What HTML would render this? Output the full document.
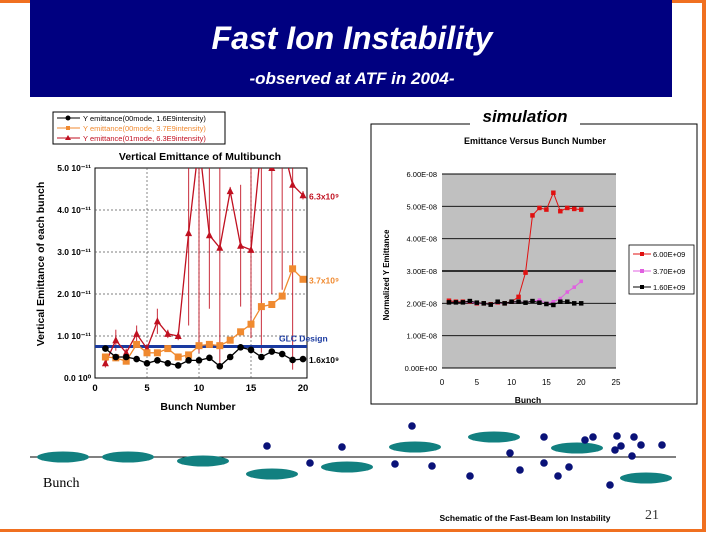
<!DOCTYPE html>
<html><head><meta charset="utf-8"><style>
html,body{margin:0;padding:0;background:#fff}
svg{display:block}
text{font-family:"Liberation Sans",sans-serif}
</style></head><body>
<svg id="s" width="720" height="540" viewBox="0 0 720 540" xmlns="http://www.w3.org/2000/svg">
<rect x="0" y="0" width="705" height="3" fill="#f07020"/>
<rect x="702" y="0" width="4" height="532" fill="#f07020"/>
<rect x="0" y="529" width="706" height="3" fill="#f07020"/>
<rect x="30" y="0" width="642" height="97" fill="#000080"/>
<text x="352" y="49" text-anchor="middle" fill="#fff" font-size="32" font-weight="bold" font-style="italic">Fast Ion Instability</text>
<text x="352" y="84" text-anchor="middle" fill="#fff" font-size="17" font-weight="bold" font-style="italic">-observed at ATF in 2004-</text>

<g id="L">
<rect x="53" y="112" width="172" height="32" fill="#fff" stroke="#000" stroke-width="1"/>
<line x1="57" y1="118" x2="80" y2="118" stroke="#000"/><circle cx="68" cy="118" r="2.5" fill="#000"/>
<text x="83" y="121" font-size="7.5" fill="#000">Y emittance(00mode, 1.6E9intensity)</text>
<line x1="57" y1="128" x2="80" y2="128" stroke="#f08a30"/><rect x="66" y="126" width="4" height="4" fill="#f08a30"/>
<text x="83" y="131" font-size="7.5" fill="#f08a30">Y emittance(00mode, 3.7E9intensity)</text>
<line x1="57" y1="138" x2="80" y2="138" stroke="#c01020"/><path d="M68 135 L71 140 L65 140Z" fill="#c01020"/>
<text x="83" y="141" font-size="7.5" fill="#c01020">Y emittance(01mode, 6.3E9intensity)</text>
<text x="200" y="160" text-anchor="middle" font-size="10.5" font-weight="bold">Vertical Emittance of Multibunch</text>
<text transform="translate(44,264) rotate(-90)" text-anchor="middle" font-size="10.5" font-weight="bold">Vertical Emittance of each bunch</text>
<text x="198" y="410" text-anchor="middle" font-size="10.5" font-weight="bold">Bunch Number</text>
</g>

<g id="R">
<rect x="371" y="124" width="326" height="280" fill="none" stroke="#000" stroke-width="1"/>
<rect x="470" y="106" width="110" height="22" fill="#fff"/>
<text x="525" y="122" text-anchor="middle" font-size="17" font-weight="bold" font-style="italic">simulation</text>
<text x="535" y="144" text-anchor="middle" font-size="9" font-weight="bold">Emittance Versus Bunch Number</text>
<text transform="translate(389,275) rotate(-90)" text-anchor="middle" font-size="8" font-weight="bold">Normalized Y Emittance</text>
<text x="528" y="403" text-anchor="middle" font-size="8.5" font-weight="bold">Bunch</text>
<rect x="629" y="245" width="65" height="49" fill="#fff" stroke="#000" stroke-width="0.8"/>
<line x1="633" y1="254" x2="651" y2="254" stroke="#e01010"/><rect x="640" y="252" width="4" height="4" fill="#e01010"/>
<text x="653" y="257" font-size="7.5">6.00E+09</text>
<line x1="633" y1="271" x2="651" y2="271" stroke="#e060e0"/><rect x="640" y="269" width="4" height="4" fill="#e060e0"/>
<text x="653" y="274" font-size="7.5">3.70E+09</text>
<line x1="633" y1="287" x2="651" y2="287" stroke="#000"/><rect x="640" y="285" width="4" height="4" fill="#000"/>
<text x="653" y="290" font-size="7.5">1.60E+09</text>
</g>

<g id="S">
<line x1="30" y1="457" x2="676" y2="457" stroke="#000" stroke-width="1"/>
<text x="43" y="487" font-size="14" style="font-family:'Liberation Serif',serif">Bunch</text>
<text x="525" y="521" text-anchor="middle" font-size="8.5" font-weight="bold">Schematic of the Fast-Beam Ion Instability</text>
<text x="652" y="519" text-anchor="middle" font-size="14" style="font-family:'Liberation Serif',serif" fill="#333">21</text>
</g>
</svg>
<script>
const NS='http://www.w3.org/2000/svg';
const bunches=[1,2,3,4,5,6,7,8,9,10,11,12,13,14,15,16,17,18,19,20];
const measLow=[0.7,0.5,0.5,0.45,0.35,0.42,0.35,0.3,0.42,0.42,0.48,0.28,0.5,0.73,0.67,0.5,0.63,0.57,0.43,0.45];
const measMid=[0.5,0.48,0.4,0.8,0.6,0.6,0.7,0.5,0.55,0.77,0.8,0.77,0.9,1.1,1.28,1.7,1.75,1.95,2.6,2.35];
const measHigh=[0.35,0.9,0.6,1.05,0.7,1.35,1.05,1.0,3.45,5.6,3.4,3.1,4.45,3.15,3.05,5.6,5.0,5.6,4.6,4.35];
const measHighErr=[0.1,0.25,0.1,0.2,0.1,0.3,0.1,0.1,2.2,5.0,1.75,2.8,0.1,1.45,2.1,5.0,3.0,3.5,4.4,0.1];
const measYTicks=['0.0 10⁰','1.0 10⁻¹¹','2.0 10⁻¹¹','3.0 10⁻¹¹','4.0 10⁻¹¹','5.0 10⁻¹¹'];
const measXTicks=[0,5,10,15,20];
const glcDesign=0.75;
const simHigh=[2.08,2.05,2.05,2.05,2.0,2.0,1.97,2.03,2.0,2.05,2.2,2.95,4.72,4.95,4.9,5.42,4.85,4.95,4.92,4.9];
const simMid=[2.03,2.03,2.03,2.05,2.0,2.0,1.97,2.03,2.0,2.04,2.05,2.03,2.07,2.1,2.0,2.05,2.15,2.35,2.5,2.68];
const simLow=[2.03,2.03,2.03,2.07,2.02,2.0,1.96,2.05,2.0,2.05,2.05,2.02,2.07,2.02,1.98,1.95,2.05,2.05,2.0,2.0];
const simYTicks=['0.00E+00','1.00E-08','2.00E-08','3.00E-08','4.00E-08','5.00E-08','6.00E-08'];
const simXTicks=[0,5,10,15,20,25];

function mk(p,tag,a){const e=document.createElementNS(NS,tag);for(const k in a)e.setAttribute(k,a[k]);p.appendChild(e);return e;}
const L=document.getElementById('L'),R=document.getElementById('R'),S=document.getElementById('S');

const lx=v=>95+(v/20)*208, ly=v=>378-(v/5)*210;
const lbg=mk(L,'rect',{x:95,y:168,width:212,height:210,fill:'#fff',stroke:'#000','stroke-width':1});


measYTicks.forEach((t,i)=>{
  if(i>0&&i<5){const g=mk(L,'line',{x1:95,x2:307,y1:ly(i),y2:ly(i),stroke:'#555','stroke-dasharray':'2,2','stroke-width':0.7});
  }
  const tx=mk(L,'text',{x:91,y:ly(i)+3,'text-anchor':'end','font-size':8.5,'font-weight':'bold'});tx.textContent=t;
  
  
});
measXTicks.forEach(v=>{
  if(v>0&&v<20){const g=mk(L,'line',{x1:lx(v),x2:lx(v),y1:168,y2:378,stroke:'#555','stroke-dasharray':'2,2','stroke-width':0.7});
  }
  const tx=mk(L,'text',{x:lx(v),y:391,'text-anchor':'middle','font-size':9.5,'font-weight':'bold'});tx.textContent=v;
  
  
});
const clip=mk(L,'clipPath',{id:'lc'});mk(clip,'rect',{x:95,y:168,width:214,height:210});
const eg=mk(L,'g',{'clip-path':'url(#lc)'});


measHighErr.forEach((e,i)=>{
  const x=lx(bunches[i]);
  const b=mk(eg,'line',{x1:x,x2:x,y1:ly(measHigh[i]-e),y2:ly(measHigh[i]+e),stroke:'#c01020','stroke-width':1.1,'stroke-opacity':0.8});
  
  
});
const glc=mk(L,'line',{x1:95,x2:307,y1:ly(glcDesign),y2:ly(glcDesign),stroke:'#1a3aa0','stroke-width':3});


const gt=mk(L,'text',{x:279,y:ly(glcDesign)-5,'font-size':8.5,'font-weight':'bold',fill:'#1a3aa0'});gt.textContent='GLC Design';


function lseries(vals,color,name,shape,label,ly0){
  const g=mk(L,'g',{'clip-path':'url(#lc)'});
  
  
  mk(g,'polyline',{points:vals.map((v,i)=>lx(bunches[i])+','+ly(v)).join(' '),fill:'none',stroke:color,'stroke-width':1.3});
  vals.forEach((v,i)=>{
    const x=lx(bunches[i]),y=ly(v);let m;
    if(shape==='c')m=mk(g,'circle',{cx:x,cy:y,r:3.3,fill:color});
    else if(shape==='s')m=mk(g,'rect',{x:x-3.5,y:y-3.5,width:7,height:7,fill:color});
    else m=mk(g,'path',{d:`M${x} ${y-4}L${x+3.5} ${y+3}L${x-3.5} ${y+3}Z`,fill:color});
    
    
  });
  const t=mk(L,'text',{x:309,y:ly0,'font-size':8.5,'font-weight':'bold',fill:color});t.textContent=label;
  
  
}
lseries(measHigh,'#c01020','measured-high','t','6.3x10⁹',ly(measHigh[19])+4);
lseries(measMid,'#f08a30','measured-mid','s','3.7x10⁹',ly(measMid[19])+4);
lseries(measLow,'#000','measured-low','c','1.6x10⁹',ly(measLow[19])+4);

const rx=v=>442+(v/25)*174, ry=v=>368-(v/6)*194;
const rbg=mk(R,'rect',{x:442,y:174,width:174,height:194,fill:'#c0c0c0'});


simYTicks.forEach((t,i)=>{
  const g=mk(R,'line',{x1:442,x2:616,y1:ry(i),y2:ry(i),stroke:'#000','stroke-width':i===3?1.6:0.9});
  
  const tx=mk(R,'text',{x:437,y:ry(i)+3,'text-anchor':'end','font-size':7.5});tx.textContent=t;
  
  
});
simXTicks.forEach(v=>{
  const tx=mk(R,'text',{x:rx(v),y:385,'text-anchor':'middle','font-size':8});tx.textContent=v;
  
  
});
function rseries(vals,color,name,sz){
  const g=mk(R,'g',{});
  
  
  mk(g,'polyline',{points:vals.map((v,i)=>rx(bunches[i])+','+ry(v)).join(' '),fill:'none',stroke:color,'stroke-width':1});
  vals.forEach((v,i)=>{
    const m=mk(g,'rect',{x:rx(bunches[i])-sz/2,y:ry(v)-sz/2,width:sz,height:sz,fill:color});
    
    
  });
}
rseries(simHigh,'#e01010','sim-6e9',4.5);
rseries(simMid,'#e060e0','sim-3.7e9',3.5);
rseries(simLow,'#000','sim-1.6e9',4.5);

const ellipses=[[63,457],[128,457],[203,461],[272,474],[347,467],[415,447],[494,437],[577,448],[646,478]];
const ions=[[267,446],[342,447],[412,426],[310,463],[395,464],[432,466],[470,476],[510,453],[520,470],[544,437],[544,463],[558,476],[569,467],[585,440],[593,437],[617,436],[615,450],[634,437],[632,456],[641,445],[662,445],[610,485],[621,446]];
ellipses.forEach(e=>{const m=mk(S,'ellipse',{cx:e[0],cy:e[1],rx:26,ry:5.5,fill:'#128080'});

});
ions.forEach(p=>{const m=mk(S,'circle',{cx:p[0],cy:p[1],r:3.8,fill:'#0a1278'});

});
</script>
</body></html>
